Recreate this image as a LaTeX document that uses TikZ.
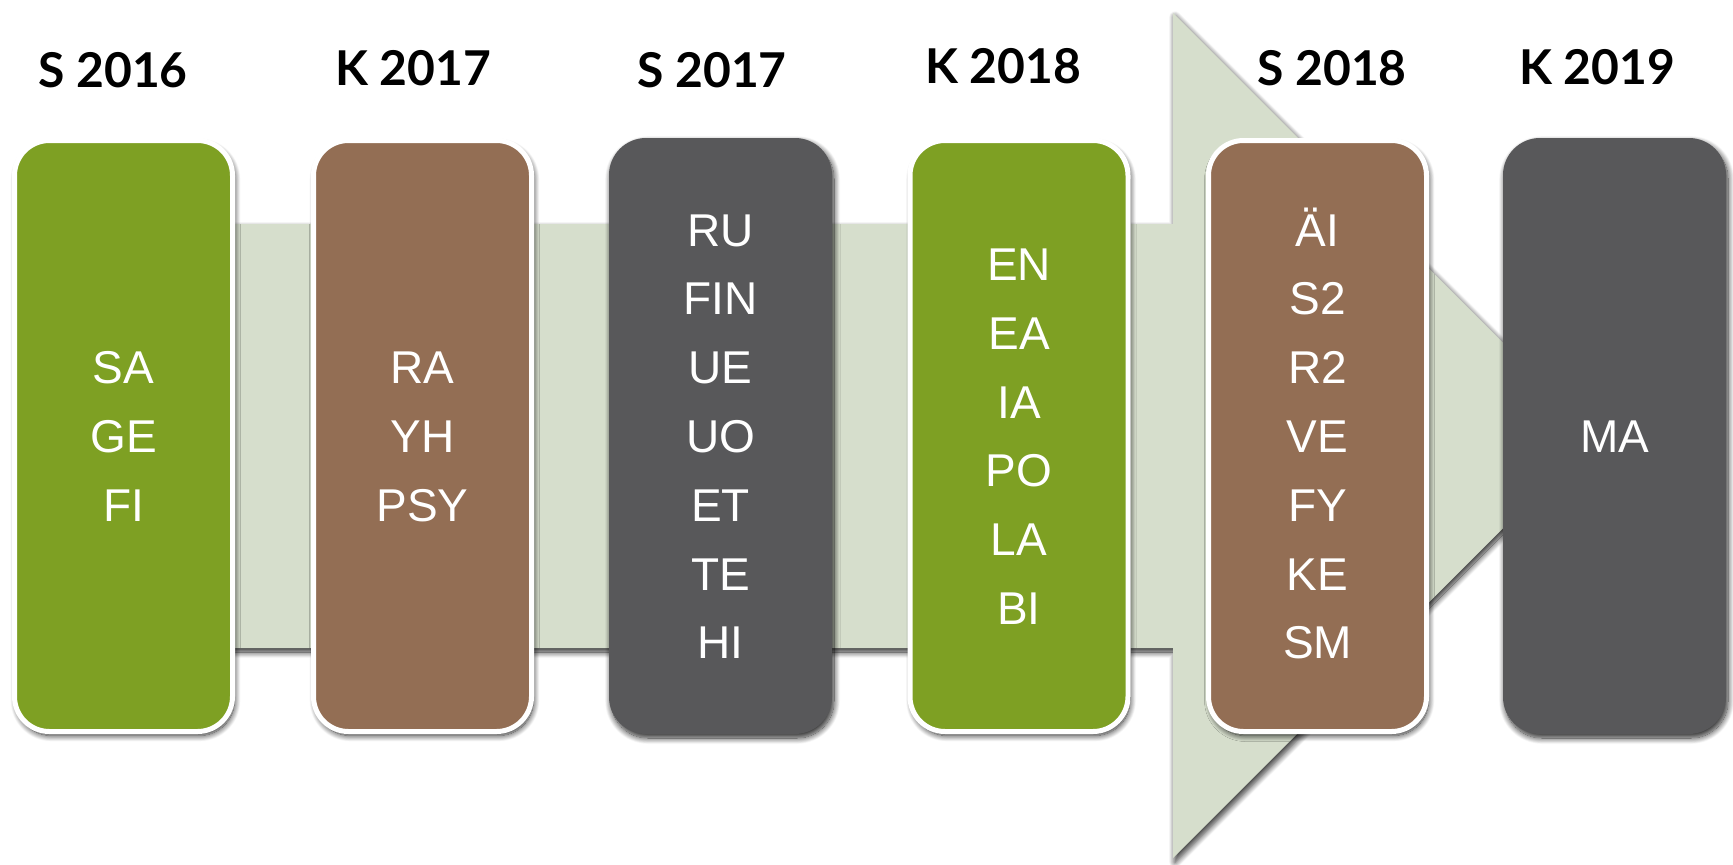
\documentclass[tikz,border=0pt]{standalone}
\usepackage{fontspec}
\setmainfont{Liberation Sans}
\newfontfamily\hdfont{Lato}
\usetikzlibrary{shadows.blur}
\definecolor{bandc}{RGB}{214,222,204}
\definecolor{greenc}{RGB}{126,160,35}
\definecolor{brownc}{RGB}{147,110,84}
\definecolor{grayc}{RGB}{88,88,90}
\tikzset{
  softshadow/.style={blur shadow={shadow xshift=2pt, shadow yshift=-4pt, shadow blur radius=6pt, shadow opacity=85, shadow blur steps=14}},
  bordbox/.style={softshadow, rectangle, rounded corners=35pt, draw=white, line width=5pt, minimum width=218pt, minimum height=591pt, inner sep=0pt},
  plainbox/.style={softshadow, rectangle, rounded corners=37pt, minimum width=223pt, minimum height=596pt, inner sep=0pt},
  hdr/.style={font=\hdfont\bfseries\fontsize{48}{56}\selectfont, text=black, inner sep=0pt, anchor=base},
  lbl/.style={font=\fontsize{46}{50}\selectfont, text=white, inner sep=0pt, anchor=base},
}
\begin{document}
\begin{tikzpicture}[x=1pt,y=-1pt]
\useasboundingbox (0,0) rectangle (1733,865);
% big arrow
\path[fill=bandc, softshadow] (40,224) -- (1173,224) -- (1173,13) -- (1596,435.5) -- (1173,858) -- (1173,648) -- (40,648) -- cycle;
% boxes
\node[bordbox, fill=greenc] (b1) at (123.5,436) {};
\node[bordbox, fill=brownc] (b2) at (422.5,436) {};
\node[plainbox, fill=grayc] (b3) at (720.5,436) {};
\node[bordbox, fill=greenc] (b4) at (1019,436) {};
\node[bordbox, fill=brownc] (b5) at (1317.5,436) {};
\node[plainbox, fill=grayc] (b6) at (1614.5,436) {};
% headers
\node[hdr] (h1) at (113,87) {S 2016};
\node[hdr] (h2) at (413,85.5) {K 2017};
\node[hdr] (h3) at (712,87) {S 2017};
\node[hdr] (h4) at (1003,83) {K 2018};
\node[hdr] (h5) at (1332,85) {S 2018};
\node[hdr] (h6) at (1597,84) {K 2019};
% labels
\foreach \t [count=\i] in {SA,GE,FI}
  \node[lbl] (t1-\i) at (123.5,{436+(\i-2)*68.8+16.5}) {\t};
\foreach \t [count=\i] in {RA,YH,PSY}
  \node[lbl] (t2-\i) at (422.5,{436+(\i-2)*68.8+16.5}) {\t};
\foreach \t [count=\i] in {RU,FIN,UE,UO,ET,TE,HI}
  \node[lbl] (t3-\i) at (720.5,{436+(\i-4)*68.8+16.5}) {\t};
\foreach \t [count=\i] in {EN,EA,IA,PO,LA,BI}
  \node[lbl] (t4-\i) at (1019,{436+(\i-3.5)*68.8+16.5}) {\t};
\foreach \t [count=\i] in {ÄI,S2,R2,VE,FY,KE,SM}
  \node[lbl] (t5-\i) at (1317.5,{436+(\i-4)*68.8+16.5}) {\t};
\node[lbl] (t6-1) at (1614.5,{436+16.5}) {MA};
\end{tikzpicture}
\end{document}
